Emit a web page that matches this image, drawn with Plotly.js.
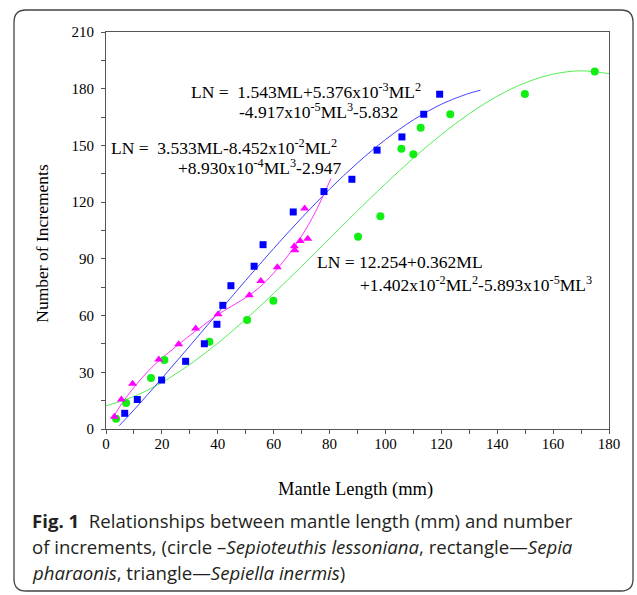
<!DOCTYPE html>
<html>
<head>
<meta charset="utf-8">
<script src="https://cdn.plot.ly/plotly-3.0.1.min.js"></script>
<style>
html,body{margin:0;padding:0;background:#fff;}
#chart{width:637px;height:595px;}
</style>
</head>
<body>
<div id="chart"></div>
<script>
// Sepioteuthis lessoniana (circles)
const circleML = [3.6, 7.2, 16.1, 20.9, 37.0, 50.5, 59.9, 90.2, 98.2, 105.7, 110.0, 112.6, 123.2, 149.9, 174.9];
const circleLN = [5.4, 13.8, 27.0, 36.5, 46.2, 57.7, 67.9, 101.7, 112.5, 148.3, 145.3, 159.4, 166.5, 177.2, 189.1];
// Sepia pharaonis (squares)
const squareML = [6.7, 11.2, 19.9, 28.5, 35.2, 39.7, 41.8, 44.7, 53.0, 56.2, 67.0, 78.0, 88.0, 97.0, 105.9, 113.7, 119.4];
const squareLN = [8.3, 15.6, 25.9, 35.8, 45.1, 55.4, 65.4, 75.8, 86.1, 97.5, 114.8, 125.6, 132.1, 147.5, 154.5, 166.5, 177.1];
// Sepiella inermis (triangles)
const triangleML = [3.0, 5.5, 9.5, 18.9, 26.0, 32.1, 40.1, 51.3, 55.4, 61.3, 67.4, 67.6, 69.5, 72.2, 71.1];
const triangleLN = [6.5, 15.6, 24.0, 36.7, 44.8, 53.1, 60.7, 70.7, 78.3, 85.5, 96.7, 94.5, 99.5, 100.7, 116.6];

// fitted curves
const circleFitML = [0, 10, 20, 30, 40, 50, 60, 70, 80, 90, 100, 110, 120, 130, 140, 150, 160, 170, 180];
const circleFitLN = [12.25, 17.22, 24.63, 34.14, 45.39, 58.04, 71.72, 86.08, 100.77, 115.44, 129.72, 143.28, 155.75, 166.78, 176.02, 183.12, 187.71, 189.45, 187.98];
const squareFitML = [4.7, 10, 20, 30, 40, 50, 60, 70, 80, 90, 100, 110, 120, 130, 134];
const squareFitLN = [1.7, 10.09, 26.79, 43.97, 61.34, 78.61, 95.48, 111.66, 126.84, 140.74, 153.06, 163.50, 171.77, 177.58, 179.2];
const triangleFitML = [2.6, 5, 10, 15, 20, 25, 30, 35, 40, 45, 50, 55, 60, 65, 70, 75, 80.5];
const triangleFitLN = [6.2, 12, 22, 30.5, 37.5, 43.5, 49.5, 55, 60.5, 65, 69.5, 75, 82.5, 91.5, 102, 115, 132.5];

const xTitle = "Mantle Length (mm)";
const yTitle = "Number of Increments";
const eqSquare = ["LN =\u00a0\u00a01.543ML+5.376x10<sup>-3</sup>ML<sup>2</sup>", "-4.917x10<sup>-5</sup>ML<sup>3</sup>-5.832"];
const eqTriangle = ["LN =\u00a0\u00a03.533ML-8.452x10<sup>-2</sup>ML<sup>2</sup>", "+8.930x10<sup>-4</sup>ML<sup>3</sup>-2.947"];
const eqCircle = ["LN = 12.254+0.362ML", "+1.402x10<sup>-2</sup>ML<sup>2</sup>-5.893x10<sup>-5</sup>ML<sup>3</sup>"];
const caption = [
  "<b>Fig. 1</b>\u00a0\u00a0Relationships between mantle length (mm) and number",
  "of increments, (circle –<i>Sepioteuthis lessoniana</i>, rectangle—<i>Sepia</i>",
  "<i>pharaonis</i>, triangle—<i>Sepiella inermis</i>)"
];

const W = 637, H = 595;
const L = 106, R = 609, T = 32, B = 429;
const px = v => (v - L) / (R - L);
const py = v => (B - v) / (B - T);

const serif = "Liberation Serif, Times New Roman, serif";

const traces = [
  {x: circleFitML, y: circleFitLN, mode: 'lines', line: {color: '#55ee55', width: 1, shape: 'spline'}, hoverinfo: 'skip'},
  {x: squareFitML, y: squareFitLN, mode: 'lines', line: {color: '#4444ff', width: 1, shape: 'spline'}, hoverinfo: 'skip'},
  {x: triangleFitML, y: triangleFitLN, mode: 'lines', line: {color: '#ff33ff', width: 1, shape: 'spline'}, hoverinfo: 'skip'},
  {x: circleML, y: circleLN, mode: 'markers', marker: {symbol: 'circle', size: 8, color: '#11ee11'}},
  {x: squareML, y: squareLN, mode: 'markers', marker: {symbol: 'square', size: 7, color: '#0000ff'}},
  {x: triangleML, y: triangleLN, mode: 'markers', marker: {symbol: 'triangle-up', size: 8, color: '#ff00ff'}}
];

function eqAnn(text, lx, cy) {
  return {text: text, xref: 'paper', yref: 'paper', x: px(lx), y: py(cy), xanchor: 'left', yanchor: 'middle',
    showarrow: false, borderpad: 0, font: {family: serif, size: 17.5, color: '#000'}};
}

const annotations = [
  eqAnn(eqSquare[0], 190, 91), eqAnn(eqSquare[1], 238, 111),
  eqAnn(eqTriangle[0], 110, 146.5), eqAnn(eqTriangle[1], 176.7, 166.7),
  eqAnn(eqCircle[0], 316, 261.5), eqAnn(eqCircle[1], 359.3, 283.5),
  {text: xTitle, xref: 'paper', yref: 'paper', x: px(355.5), y: py(490), xanchor: 'center', yanchor: 'middle', showarrow: false,
    font: {family: serif, size: 18.5, color: '#000'}},
  {text: yTitle, xref: 'paper', yref: 'paper', x: px(41.7), y: py(243), xanchor: 'center', yanchor: 'middle', showarrow: false, textangle: -90,
    font: {family: serif, size: 17.5, color: '#000'}}
];
const capY = [520, 546, 572];
caption.forEach((c, i) => annotations.push({text: c, xref: 'paper', yref: 'paper', x: px(30), y: py(capY[i]), xanchor: 'left', yanchor: 'middle',
  showarrow: false, font: {family: 'Open Sans, sans-serif', size: 18.6, color: '#231f20'}}));

// rounded frame
const fx0 = px(14), fx1 = px(633), fy0 = py(591), fy1 = py(10);
const rx = 12 / (R - L), ry = 12 / (B - T);
const framePath = `M ${fx0 + rx},${fy1} L ${fx1 - rx},${fy1} Q ${fx1},${fy1} ${fx1},${fy1 - ry} L ${fx1},${fy0 + ry} Q ${fx1},${fy0} ${fx1 - rx},${fy0} L ${fx0 + rx},${fy0} Q ${fx0},${fy0} ${fx0},${fy0 + ry} L ${fx0},${fy1 - ry} Q ${fx0},${fy1} ${fx0 + rx},${fy1} Z`;

const axisCommon = {
  showgrid: false, zeroline: false, showline: true, linecolor: '#555', linewidth: 1, mirror: true,
  ticks: 'outside', ticklen: 4, tickcolor: '#555', tickwidth: 1,
  tickfont: {family: serif, size: 15, color: '#000'}
};

const layout = {
  width: W, height: H,
  margin: {l: L, r: W - R, t: T, b: H - B, pad: 0},
  paper_bgcolor: '#fff', plot_bgcolor: '#fff',
  showlegend: false,
  xaxis: Object.assign({}, axisCommon, {range: [0, 180], dtick: 20, tick0: 0, ticklabelstandoff: -3,
    minor: {ticks: 'outside', ticklen: 4, dtick: 10, tickcolor: '#555', showgrid: false}}),
  yaxis: Object.assign({}, axisCommon, {range: [0, 210], dtick: 30, tick0: 0, ticklabelstandoff: 4,
    minor: {ticks: 'outside', ticklen: 4, dtick: 15, tickcolor: '#555', showgrid: false}}),
  annotations: annotations,
  shapes: [{type: 'path', xref: 'paper', yref: 'paper', path: framePath, line: {color: '#444', width: 1.3}, layer: 'below'}]
};

Plotly.newPlot('chart', traces, layout, {staticPlot: true, displayModeBar: false});
</script>
</body>
</html>
